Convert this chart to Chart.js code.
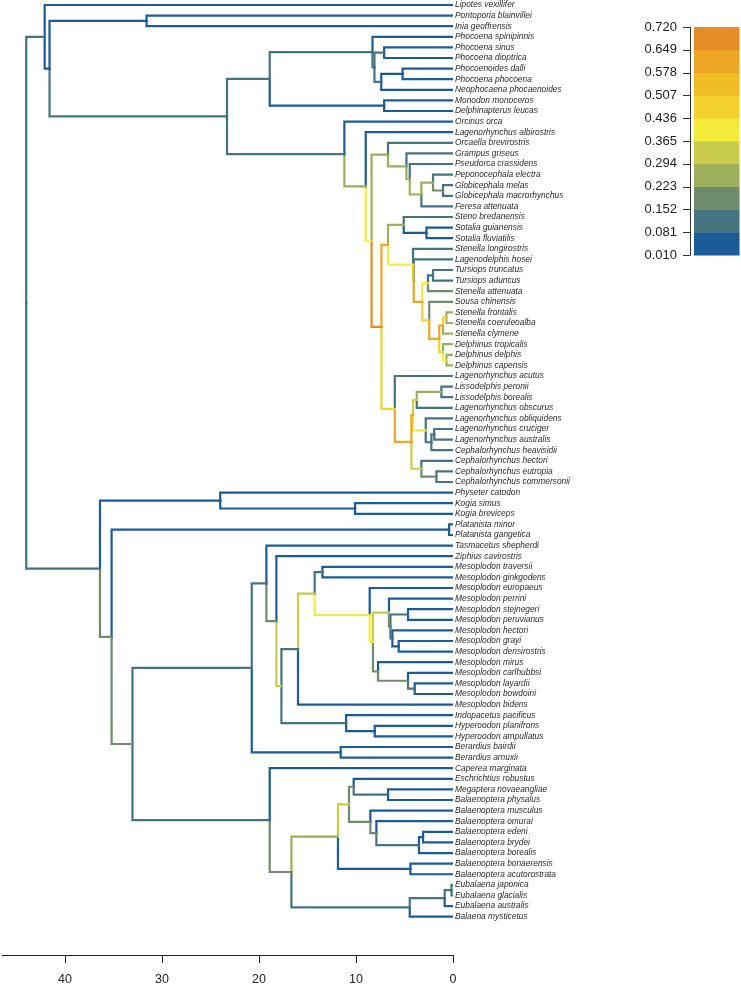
<!DOCTYPE html>
<html>
<head>
<meta charset="utf-8">
<script src="https://cdn.jsdelivr.net/npm/chart.js@4.4.1/dist/chart.umd.min.js"></script>
<style>
  html, body { margin: 0; padding: 0; background: #ffffff; }
  #wrap { width: 741px; height: 986px; }
</style>
</head>
<body>
<div id="wrap"><canvas id="c" width="741" height="986"></canvas></div>
<script>
// ---------- DATA ----------
const tipLabels = [
  "Lipotes vexillifer", "Pontoporia blainvillei", "Inia geoffrensis", "Phocoena spinipinnis",
  "Phocoena sinus", "Phocoena dioptrica", "Phocoenoides dalli", "Phocoena phocoena",
  "Neophocaena phocaenoides", "Monodon monoceros", "Delphinapterus leucas", "Orcinus orca",
  "Lagenorhynchus albirostris", "Orcaella brevirostris", "Grampus griseus", "Pseudorca crassidens",
  "Peponocephala electra", "Globicephala melas", "Globicephala macrorhynchus", "Feresa attenuata",
  "Steno bredanensis", "Sotalia guianensis", "Sotalia fluviatilis", "Stenella longirostris",
  "Lagenodelphis hosei", "Tursiops truncatus", "Tursiops aduncus", "Stenella attenuata",
  "Sousa chinensis", "Stenella frontalis", "Stenella coeruleoalba", "Stenella clymene",
  "Delphinus tropicalis", "Delphinus delphis", "Delphinus capensis", "Lagenorhynchus acutus",
  "Lissodelphis peronii", "Lissodelphis borealis", "Lagenorhynchus obscurus", "Lagenorhynchus obliquidens",
  "Lagenorhynchus cruciger", "Lagenorhynchus australis", "Cephalorhynchus heavisidii", "Cephalorhynchus hectori",
  "Cephalorhynchus eutropia", "Cephalorhynchus commersonii", "Physeter catodon", "Kogia simus",
  "Kogia breviceps", "Platanista minor", "Platanista gangetica", "Tasmacetus shepherdi",
  "Ziphius cavirostris", "Mesoplodon traversii", "Mesoplodon ginkgodens", "Mesoplodon europaeus",
  "Mesoplodon perrini", "Mesoplodon stejnegeri", "Mesoplodon peruvianus", "Mesoplodon hectori",
  "Mesoplodon grayi", "Mesoplodon densirostris", "Mesoplodon mirus", "Mesoplodon carlhubbsi",
  "Mesoplodon layardii", "Mesoplodon bowdoini", "Mesoplodon bidens", "Indopacetus pacificus",
  "Hyperoodon planifrons", "Hyperoodon ampullatus", "Berardius bairdii", "Berardius arnuxii",
  "Caperea marginata", "Eschrichtius robustus", "Megaptera novaeangliae", "Balaenoptera physalus",
  "Balaenoptera musculus", "Balaenoptera omurai", "Balaenoptera edeni", "Balaenoptera brydei",
  "Balaenoptera borealis", "Balaenoptera bonaerensis", "Balaenoptera acutorostrata", "Eubalaena japonica",
  "Eubalaena glacialis", "Eubalaena australis", "Balaena mysticetus"
];

// internal nodes (children: node id or tip number, 1-based)
const nodeIds = [
  'root','U1','U2','PI','DLO','PM','PHO','PHO2',
  'SD','PHO3','DP','MON','DEL','N1','N2','G',
  'G2','G3','G4','G5','GP','R','D','S',
  'SOT','DN','LU','U','T','TUR','V','W',
  'FCC','FC','TDC','DC','L','L2','LOOB','LO',
  'LIS','OB','CAH','CA','CG','EC','LOW','PHY',
  'KOG','PZ','PLA','ZM','Z','Z1','Z2','ZH',
  'M0','M1','MTG','M2','M3','M4','X','SP',
  'HG','GD','MG','CLB','LB','H','HYP','BER',
  'MY','MY2','B1','B2','B3','MP','B4','B5',
  'B6','EB','MIN','RW','E1','E2'
];
// node ages (Myr before present)
const nodeAges = [
  44.0, 42.1, 41.6, 31.6, 23.3, 18.9, 8.3, 8.1,
  7.1, 7.4, 5.2, 7.1, 11.2, 9.0, 8.4, 6.7,
  4.8, 4.46, 3.26, 2.06, 1.03, 7.38, 6.7, 5.08,
  2.74, 4.12, 4.05, 3.17, 2.58, 2.06, 2.45, 1.42,
  1.03, 0.68, 1.03, 0.68, 6.0, 4.29, 4.12, 3.74,
  1.2, 2.81, 2.23, 1.94, 3.26, 1.71, 36.4, 24.0,
  10.1, 35.2, 0.41, 33.05, 20.75, 19.24, 18.21, 17.69,
  15.98, 14.26, 13.46, 8.59, 8.25, 6.6, 6.45, 4.64,
  6.25, 5.6, 7.73, 4.64, 3.95, 11.02, 8.07, 11.58,
  18.9, 16.66, 11.86, 10.72, 10.24, 6.7, 8.52, 7.9,
  3.51, 3.09, 4.39, 4.46, 0.86, 0.16
];
const nodeKids = [
  ['U1','LOW'], [1,'U2'], ['PI','DLO'], [2,3], ['PM','DEL'], ['PHO','MON'], [4,'PHO2'], ['SD','PHO3'],
  [5,6], ['DP',9], [7,8], [10,11], [12,'N1'], [13,'N2'], ['G','R'], [14,'G2'],
  [15,'G3'], [16,'G4'], ['G5',20], [17,'GP'], [18,19], ['D','L'], ['S','DN'], [21,'SOT'],
  [22,23], [24,'LU'], [25,'U'], ['T','V'], ['TUR',28], [26,27], [29,'W'], ['FCC','TDC'],
  ['FC',32], [30,31], [33,'DC'], [34,35], [36,'L2'], ['LOOB','CG'], ['LO','OB'], ['LIS',39],
  [37,38], [40,'CAH'], ['CA',43], [41,42], [44,'EC'], [45,46], ['PHY','PZ'], [47,'KOG'],
  [48,49], ['PLA','ZM'], [50,51], ['Z','MY'], ['Z1','BER'], [52,'Z2'], [53,'ZH'], ['M0','H'],
  ['M1',67], ['MTG','M2'], [54,55], [56,'M3'], ['M4','MG'], [57,'X'], ['SP','HG'], [58,59],
  [60,'GD'], [61,62], [63,'CLB'], [64,'LB'], [65,66], [68,'HYP'], [69,70], [71,72],
  [73,'MY2'], ['B1','RW'], ['B2','MIN'], ['B3','B4'], [74,'MP'], [75,76], [77,'B5'], [78,'B6'],
  ['EB',81], [79,80], [82,83], ['E1',87], ['E2',86], [84,85]
];
// rate of the branch leading to each child
const kidRates = [
  [0.12,0.12],[0.05,0.05],[0.05,0.12],[0.05,0.05],[0.12,0.12],[0.12,0.05],[0.05,0.12],[0.12,0.12],
  [0.05,0.05],[0.05,0.05],[0.05,0.05],[0.05,0.05],[0.05,0.26],[0.05,0.40],[0.26,0.66],[0.12,0.26],
  [0.12,0.26],[0.12,0.26],[0.26,0.12],[0.12,0.19],[0.12,0.12],[0.62,0.45],[0.26,0.40],[0.12,0.05],
  [0.05,0.05],[0.12,0.55],[0.12,0.60],[0.42,0.45],[0.12,0.22],[0.12,0.12],[0.19,0.62],[0.58,0.50],
  [0.45,0.26],[0.26,0.26],[0.26,0.42],[0.26,0.26],[0.12,0.60],[0.60,0.33],[0.33,0.40],[0.26,0.12],
  [0.12,0.12],[0.12,0.12],[0.12,0.12],[0.12,0.12],[0.12,0.19],[0.12,0.12],[0.05,0.19],[0.05,0.05],
  [0.05,0.05],[0.05,0.19],[0.05,0.05],[0.12,0.12],[0.12,0.05],[0.05,0.22],[0.05,0.30],[0.12,0.12],
  [0.33,0.05],[0.12,0.40],[0.05,0.05],[0.05,0.40],[0.33,0.22],[0.05,0.19],[0.12,0.12],[0.05,0.05],
  [0.05,0.05],[0.05,0.05],[0.05,0.19],[0.05,0.12],[0.05,0.05],[0.05,0.05],[0.05,0.05],[0.05,0.05],
  [0.05,0.19],[0.26,0.12],[0.33,0.05],[0.22,0.22],[0.05,0.10],[0.05,0.05],[0.05,0.19],[0.05,0.12],
  [0.05,0.05],[0.05,0.05],[0.05,0.05],[0.12,0.05],[0.12,0.05],[0.12,0.12]
];

const xTickValues = [0, 10, 20, 30, 40];
const legendBreaks = [0.010, 0.081, 0.152, 0.223, 0.294, 0.365, 0.436, 0.507, 0.578, 0.649, 0.720];
const legendColors = ['#1B5B97','#45737F','#6E8C6D','#9DAE5C','#C9CB4A','#F4EA3A','#F3D22F','#F0BC25','#EDA624','#E48C26'];

// ---------- BUILD ----------
function rateColor(r) {
  for (let i = 0; i < legendColors.length; i++) {
    if (r <= legendBreaks[i + 1]) return legendColors[i];
  }
  return legendColors[legendColors.length - 1];
}
const idx = {};
nodeIds.forEach((id, i) => idx[id] = i);
const yCache = {};
function yOf(k) {
  if (typeof k === 'number') return k;
  if (yCache[k] !== undefined) return yCache[k];
  const kids = nodeKids[idx[k]];
  const v = kids.reduce((s, c) => s + yOf(c), 0) / kids.length;
  yCache[k] = v;
  return v;
}
function ageOf(k) { return typeof k === 'number' ? 0 : nodeAges[idx[k]]; }

const datasets = [];
nodeIds.forEach((id, i) => {
  const px = nodeAges[i], py = yOf(id);
  nodeKids[i].forEach((c, j) => {
    const cy = yOf(c);
    datasets.push({
      data: [{x: px, y: py}, {x: px, y: cy}, {x: ageOf(c), y: cy}],
      borderColor: rateColor(kidRates[i][j]),
      borderWidth: 2.2,
      showLine: true,
      pointRadius: 0,
      tension: 0,
      borderCapStyle: 'square',
      borderJoinStyle: 'miter',
      fill: false
    });
  });
});

const tipLabelPlugin = {
  id: 'tipLabels',
  afterDatasetsDraw(chart) {
    const {ctx, scales: {x, y}} = chart;
    ctx.save();
    ctx.font = 'italic 8.4px "Liberation Sans", Arial, sans-serif';
    ctx.fillStyle = '#2a2a2a';
    ctx.textAlign = 'left';
    ctx.textBaseline = 'middle';
    const x0 = x.getPixelForValue(0) + 2;
    tipLabels.forEach((t, i) => ctx.fillText(t, x0, y.getPixelForValue(i + 1)));
    ctx.restore();
  }
};

const colorBarPlugin = {
  id: 'colorBar',
  afterDraw(chart) {
    const ctx = chart.ctx;
    const left = 694, right = 739.5, top = 27, bottom = 255;
    const n = legendColors.length;
    const h = (bottom - top) / n;
    ctx.save();
    for (let i = 0; i < n; i++) {
      ctx.fillStyle = legendColors[i];
      ctx.fillRect(left, bottom - (i + 1) * h, right - left, h + 0.5);
    }
    ctx.strokeStyle = '#333333';
    ctx.lineWidth = 1;
    ctx.beginPath();
    ctx.moveTo(690.5, top); ctx.lineTo(690.5, bottom);
    ctx.stroke();
    ctx.font = '13px "Liberation Sans", Arial, sans-serif';
    ctx.fillStyle = '#222222';
    ctx.textAlign = 'right';
    ctx.textBaseline = 'middle';
    legendBreaks.forEach((b, i) => {
      const yy = bottom - i * h;
      ctx.beginPath();
      ctx.moveTo(683, Math.round(yy) + 0.5); ctx.lineTo(690.5, Math.round(yy) + 0.5);
      ctx.stroke();
      ctx.fillText(b.toFixed(3), 677, yy);
    });
    ctx.restore();
  }
};

new Chart(document.getElementById('c'), {
  type: 'scatter',
  data: { datasets },
  options: {
    responsive: false,
    animation: false,
    events: [],
    layout: { padding: { left: 2, right: 288, top: 0, bottom: 0 } },
    plugins: { legend: { display: false }, tooltip: { enabled: false } },
    scales: {
      x: {
        type: 'linear',
        reverse: true,
        min: 0,
        max: 46.5,
        afterBuildTicks: s => { s.ticks = xTickValues.map(v => ({ value: v })); },
        afterFit: s => { s.height = 31; },
        grid: { drawOnChartArea: false, drawTicks: true, tickLength: 8, color: '#222222', lineWidth: 1 },
        border: { display: true, color: '#222222', width: 1 },
        ticks: { color: '#222222', padding: 9, maxRotation: 0, autoSkip: false,
                 font: { family: '"Liberation Sans", Arial, sans-serif', size: 12.5 } }
      },
      y: {
        type: 'linear',
        reverse: true,
        min: 0.528,
        max: 90.62,
        display: false
      }
    }
  },
  plugins: [tipLabelPlugin, colorBarPlugin]
});
</script>
</body>
</html>
